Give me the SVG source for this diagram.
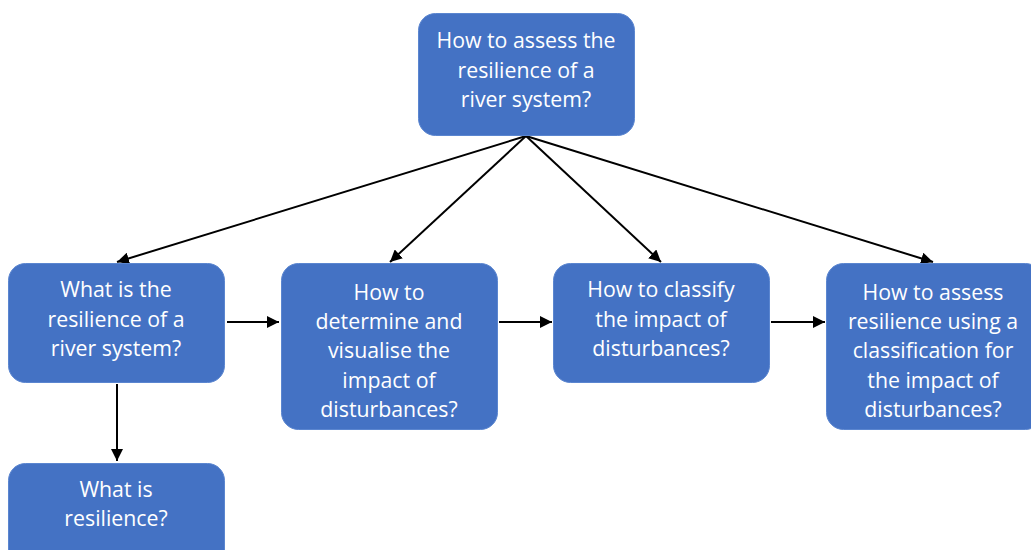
<svg xmlns="http://www.w3.org/2000/svg" width="1031" height="550" viewBox="0 0 1031 550">
<defs>
<style>
.box{fill:#4472C4;stroke:#5b86d0;stroke-width:1}
.t{font-family:"Open Sans","Liberation Sans",sans-serif;font-size:21.3px;fill:#ffffff;text-anchor:middle}
.c{stroke:#000;stroke-width:2;fill:none;marker-end:url(#ah)}
</style>
<marker id="ah" viewBox="0 0 10 10" refX="10" refY="5" markerWidth="6" markerHeight="6" orient="auto" markerUnits="strokeWidth">
<path d="M0,0 L10,5 L0,10 z" fill="#000"/>
</marker>
</defs>
<rect width="1031" height="550" fill="#fff"/>
<g id="connectors">
<line class="c" x1="526" y1="136" x2="117" y2="262"/>
<line class="c" x1="526" y1="136" x2="390" y2="262"/>
<line class="c" x1="526" y1="136" x2="661" y2="262"/>
<line class="c" x1="526" y1="136" x2="933" y2="262"/>
<line class="c" x1="227" y1="322" x2="279" y2="322"/>
<line class="c" x1="499" y1="322" x2="552" y2="322"/>
<line class="c" x1="771" y1="322" x2="825" y2="322"/>
<line class="c" x1="117" y1="384" x2="117" y2="461"/>
</g>
<g id="n-top">
<rect class="box" x="418.5" y="13.5" width="216" height="122" rx="17"/>
<text class="t" x="526" y="48">How to assess the</text>
<text class="t" x="526" y="77.5">resilience of a</text>
<text class="t" x="526" y="107">river system?</text>
</g>
<g id="n-a">
<rect class="box" x="8.5" y="263.5" width="216" height="119" rx="17"/>
<text class="t" x="116" y="297">What is the</text>
<text class="t" x="116" y="327">resilience of a</text>
<text class="t" x="116" y="356">river system?</text>
</g>
<g id="n-b">
<rect class="box" x="281.5" y="263.5" width="216" height="166" rx="17"/>
<text class="t" x="389" y="300">How to</text>
<text class="t" x="389" y="329">determine and</text>
<text class="t" x="389" y="358">visualise the</text>
<text class="t" x="389" y="388">impact of</text>
<text class="t" x="389" y="417">disturbances?</text>
</g>
<g id="n-c">
<rect class="box" x="553.5" y="263.5" width="216" height="119" rx="17"/>
<text class="t" x="661" y="297">How to classify</text>
<text class="t" x="661" y="327">the impact of</text>
<text class="t" x="661" y="356">disturbances?</text>
</g>
<g id="n-d">
<rect class="box" x="826.5" y="263.5" width="216" height="166" rx="17"/>
<text class="t" x="933" y="300">How to assess</text>
<text class="t" x="933" y="329">resilience using a</text>
<text class="t" x="933" y="358">classification for</text>
<text class="t" x="933" y="388">the impact of</text>
<text class="t" x="933" y="417">disturbances?</text>
</g>
<g id="n-e">
<rect class="box" x="8.5" y="463.5" width="216" height="110" rx="17"/>
<text class="t" x="116" y="497">What is</text>
<text class="t" x="116" y="526">resilience?</text>
</g>
</svg>
